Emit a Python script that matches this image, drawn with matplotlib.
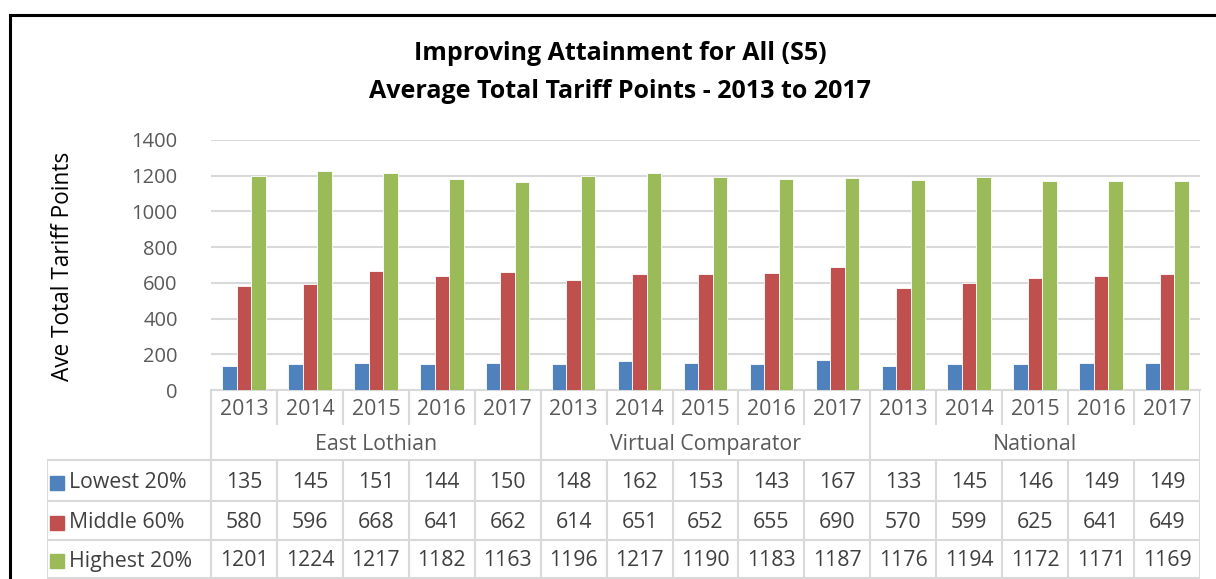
import matplotlib
matplotlib.use("Agg")
import matplotlib.pyplot as plt
from matplotlib.lines import Line2D
import numpy as np

years = ["2013", "2014", "2015", "2016", "2017"]
groups = ["East Lothian", "Virtual Comparator", "National"]
series_names = ["Lowest 20%", "Middle 60%", "Highest 20%"]
lowest = [135, 145, 151, 144, 150, 148, 162, 153, 143, 167, 133, 145, 146, 149, 149]
middle = [580, 596, 668, 641, 662, 614, 651, 652, 655, 690, 570, 599, 625, 641, 649]
highest = [1201, 1224, 1217, 1182, 1163, 1196, 1217, 1190, 1183, 1187, 1176, 1194, 1172, 1171, 1169]
colors = ["#4F81BD", "#C0504D", "#9BBB59"]
title_lines = ["Improving Attainment for All (S5)", "Average Total Tariff Points - 2013 to 2017"]
ylabel = "Ave Total Tariff Points"

plt.rcParams['font.family'] = ['Open Sans', 'DejaVu Sans']
W, H = 1216, 579
fig = plt.figure(figsize=(W / 100, H / 100), dpi=100)

def fx(px):
    return px / W

def fy(py):
    return 1 - py / H

FS = 15.3

# plot area
x0, x1 = 211, 1200
ytop, ybot = 140, 390
ax = fig.add_axes([fx(x0), fy(ybot), fx(x1 - x0), (ybot - ytop) / H])
n = len(lowest)
xs = np.arange(n)
bw = 0.22
data = [lowest, middle, highest]
for k, (vals, c) in enumerate(zip(data, colors)):
    ax.bar(xs + (k - 1) * bw, vals, width=bw, color=c, edgecolor="white", linewidth=0.6, zorder=3)
ax.set_xlim(-0.5, n - 0.5)
ax.set_ylim(0, 1400)
ax.set_yticks(range(0, 1401, 200))
ax.yaxis.grid(True, color="#d9d9d9", linewidth=1.5, zorder=0)
ax.set_xticks([])
ax.tick_params(axis="y", length=0, labelsize=14.5, labelcolor="#595959", pad=24)
for s in ["top", "right", "left"]:
    ax.spines[s].set_visible(False)
ax.spines["bottom"].set_color("#d9d9d9")
ax.spines["bottom"].set_linewidth(1.5)
ax.set_facecolor("none")

# y label
fig.text(fx(63), fy(266), ylabel, rotation=90, ha="center", va="center", fontsize=16.3, color="#000000")

# title
fig.text(fx(620), fy(54), title_lines[0], ha="center", va="center", fontsize=18, fontweight="bold")
fig.text(fx(620), fy(92), title_lines[1], ha="center", va="center", fontsize=18, fontweight="bold")

# table axes (x in category units, y in pixel rows)
colw = (x1 - x0) / n
tx0 = 47
left_ext = (x0 - tx0) / colw
tab = fig.add_axes([fx(tx0), 0, fx(x1 - tx0), fy(ybot)])
tab.set_xlim(-0.5 - left_ext, n - 0.5)
tab.set_ylim(H, ybot)
tab.axis("off")
gc = "#d9d9d9"
lw = 1.5
row_year = (390, 425)
row_group = (425, 460)
rows = [(460, 501), (501, 540), (540, 578)]
L = -0.5 - left_ext
# vertical lines
for i in range(n + 1):
    xb = i - 0.5
    if i % 5 == 0:
        tab.plot([xb, xb], [row_year[0], rows[-1][1]], color=gc, lw=lw, solid_capstyle="butt")
    else:
        tab.plot([xb, xb], [row_year[0], row_year[1]], color=gc, lw=lw, solid_capstyle="butt")
        tab.plot([xb, xb], [rows[0][0], rows[-1][1]], color=gc, lw=lw, solid_capstyle="butt")
tab.plot([L, L], [rows[0][0], rows[-1][1]], color=gc, lw=lw, solid_capstyle="butt")
for yb in [rows[0][0]] + [r[1] for r in rows]:
    tab.plot([L, n - 0.5], [yb, yb], color=gc, lw=lw, solid_capstyle="butt")

# year labels
for i in range(n):
    tab.text(i, sum(row_year) / 2 + 2, years[i % 5], ha="center", va="center", fontsize=FS, color="#595959")
for g, name in enumerate(groups):
    tab.text(g * 5 + 2, sum(row_group) / 2 + 2, name, ha="center", va="center", fontsize=FS, color="#595959")
# data rows
for r, (vals, name, c) in enumerate(zip(data, series_names, colors)):
    yc = sum(rows[r]) / 2 + 2
    for i, v in enumerate(vals):
        tab.text(i, yc, str(v), ha="center", va="center", fontsize=FS, color="#404040")
    tab.plot([L + 10 / colw], [yc], marker="s", markersize=9.5, color=c, linestyle="none")
    tab.text(L + 22 / colw, yc, name, ha="left", va="center", fontsize=FS, color="#404040")

# black frame
fig.add_artist(Line2D([fx(10), fx(10)], [fy(15), 0], color="black", lw=2.2, transform=fig.transFigure))
fig.add_artist(Line2D([fx(10), 1], [fy(15), fy(15)], color="black", lw=2.2, transform=fig.transFigure))

fig.savefig("out.png", dpi=100)
